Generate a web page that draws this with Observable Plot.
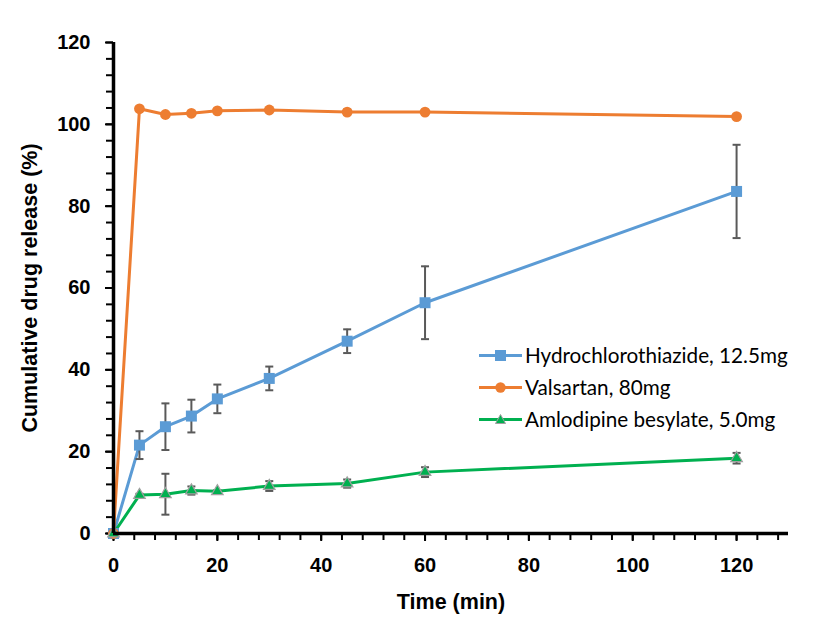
<!DOCTYPE html>
<html><head><meta charset="utf-8">
<script src="https://cdn.jsdelivr.net/npm/d3@7"></script>
<script src="https://cdn.jsdelivr.net/npm/@observablehq/plot@0.6"></script>
<style>
body{margin:0;background:#fff;}
#wrap{position:relative;width:826px;height:630px;}
#legend{position:absolute;left:479px;top:339px;font-family:Lato, "Noto Sans", sans-serif;font-size:20.7px;color:#000;}
.row{display:flex;align-items:center;height:32px;white-space:nowrap;}
.row svg{margin-right:3px;display:block}
</style></head><body><div id="wrap"></div>
<script>
const times = [0,5,10,15,20,30,45,60,120];
const seriesNames = ["Hydrochlorothiazide, 12.5mg","Valsartan, 80mg","Amlodipine besylate, 5.0mg"];
const hctzMean = [0,21.6,26.1,28.7,32.9,37.9,47.0,56.4,83.6];
const hctzSD   = [0,3.4,5.7,4.0,3.5,2.9,2.9,8.9,11.4];
const valsMean = [0,103.8,102.4,102.7,103.3,103.5,103.0,103.0,101.9];
const valsSD   = [0,0.3,0.3,0.3,0.3,0.3,0.6,0.5,0.3];
const amloMean = [0,9.4,9.6,10.5,10.3,11.6,12.2,15.0,18.4];
const amloSD   = [0,0.3,5.0,1.0,0.3,1.2,1.0,1.2,1.3];
const colors = ["#5B9BD5","#ED7D31","#00B050"];
const symbols = ["square","circle","triangle"];
const xTicks = [0,20,40,60,80,100,120];
const yTicks = [0,20,40,60,80,100,120];
const xLabel = "Time (min)";
const yLabel = "Cumulative drug release (%)";

const means = [hctzMean, valsMean, amloMean];
const sds = [hctzSD, valsSD, amloSD];
const data = [];
seriesNames.forEach((s, k) => times.forEach((t, i) => data.push({series: s, k, t, mean: means[k][i], sd: sds[k][i]})));
const withErr = data.filter(d => d.sd > 0);

const cap = {draw(ctx) { ctx.moveTo(-4, 0); ctx.lineTo(4, 0); }};
const font = "Liberation Sans, Arial, sans-serif";
const markerR = [6.2, 5.4, 4.3];

const chart = Plot.plot({
  width: 826, height: 630,
  marginLeft: 113, marginRight: 38, marginTop: 42, marginBottom: 97,
  style: {fontFamily: font, fontSize: "20px", fontWeight: "bold", color: "#000", background: "#fff", overflow: "visible"},
  x: {domain: [0, 130]},
  y: {domain: [0, 120]},
  color: {domain: seriesNames, range: colors},
  marks: [
    Plot.axisX(d3.range(0, 130, 4), {tickSize: 7, strokeWidth: 2, tickFormat: () => "", label: null}),
    Plot.axisY(d3.range(0, 121, 4), {tickSize: 7, strokeWidth: 2, tickFormat: () => "", label: null}),
    Plot.axisX(xTicks, {tickSize: 8, tickPadding: 16, strokeWidth: 2, fontSize: 20, fontWeight: "bold", label: null}),
    Plot.axisY(yTicks, {tickSize: 8, tickPadding: 15, strokeWidth: 2, fontSize: 20, fontWeight: "bold", label: null}),
    Plot.axisY([], {tickSize: 0, label: yLabel, labelAnchor: "center", labelArrow: "none", labelOffset: 92, fontSize: 21.5, fontWeight: "bold"}),
    Plot.line(data, {x: "t", y: "mean", z: "series", stroke: "series", strokeWidth: 3}),
    Plot.ruleX(withErr, {x: "t", y1: d => d.mean - d.sd, y2: d => d.mean + d.sd, stroke: "#595959", strokeWidth: 2}),
    Plot.dot(withErr, {x: "t", y: d => d.mean + d.sd, symbol: cap, stroke: "#595959", strokeWidth: 2}),
    Plot.dot(withErr, {x: "t", y: d => d.mean - d.sd, symbol: cap, stroke: "#595959", strokeWidth: 2}),
    ...seriesNames.map((s, k) => Plot.dot(data.filter(d => d.k === k), {
      x: "t", y: "mean", symbol: symbols[k], r: markerR[k], fill: colors[k],
      stroke: k === 2 ? "#A0A0A0" : "none", strokeWidth: 1.2
    })),
    Plot.ruleX([0], {stroke: "#000", strokeWidth: 3.5}),
    Plot.ruleY([0], {stroke: "#000", strokeWidth: 3.5}),
    Plot.text([xLabel], {frameAnchor: "bottom", dy: 69, lineAnchor: "middle", fontSize: 21.5, fontWeight: "bold"})
  ]
});
const wrap = document.getElementById("wrap");
wrap.appendChild(chart);

const legend = document.createElement("div");
legend.id = "legend";
seriesNames.forEach((s, k) => {
  const row = document.createElement("div");
  row.className = "row";
  let mk;
  if (k === 0) mk = `<rect x="16" y="1" width="11" height="11" fill="${colors[k]}"/>`;
  else if (k === 1) mk = `<circle cx="21.5" cy="6.5" r="5.2" fill="${colors[k]}"/>`;
  else mk = `<path d="M21.5,1.5 L26.5,10.5 L16.5,10.5 Z" fill="${colors[k]}" stroke="#A0A0A0" stroke-width="1"/>`;
  row.innerHTML = `<svg width="43" height="13"><line x1="0" x2="43" y1="6.5" y2="6.5" stroke="${colors[k]}" stroke-width="3"/>${mk}</svg><span>${s}</span>`;
  legend.appendChild(row);
});
wrap.appendChild(legend);
</script></body></html>
